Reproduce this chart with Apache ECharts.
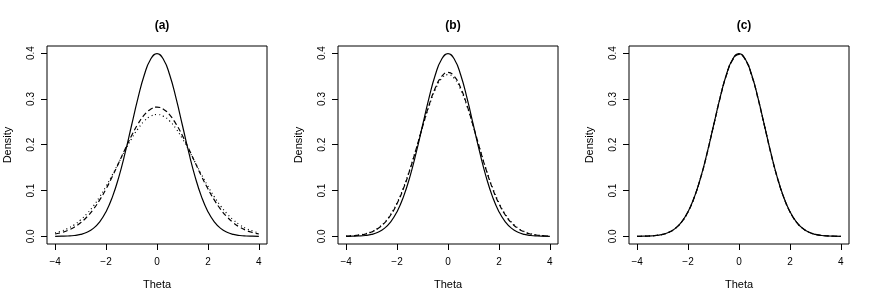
<!DOCTYPE html>
<html>
<head>
<meta charset="utf-8">
<script src="https://cdn.jsdelivr.net/npm/echarts@6/dist/echarts.min.js"></script>
<style>html,body{margin:0;padding:0;background:#fff}#c{width:872px;height:303px}</style>
</head>
<body>
<div id="c"></div>
<script>
var thetaGrid = [-4,-3.75,-3.5,-3.25,-3,-2.75,-2.5,-2.25,-2,-1.75,-1.5,-1.25,-1,-0.75,-0.5,-0.25,0,0.25,0.5,0.75,1,1.25,1.5,1.75,2,2.25,2.5,2.75,3,3.25,3.5,3.75,4];
var panelTitles = ['(a)','(b)','(c)'];
var xTicks = [-4,-2,0,2,4];
var yTicks = [0,0.1,0.2,0.3,0.4];

function mirror(half){ var r = half.slice(); for (var i = half.length-2; i >= 0; i--) r.push(half[i]); return r; }

var solidA = mirror([0.0001,0.0004,0.0009,0.0020,0.0044,0.0091,0.0175,0.0317,0.0540,0.0863,0.1295,0.1826,0.2420,0.3011,0.3521,0.3867,0.3989]);
var dashedA = mirror([0.0052,0.0084,0.0132,0.0201,0.0297,0.0426,0.0591,0.0796,0.1038,0.1312,0.1607,0.1909,0.2197,0.2451,0.2650,0.2777,0.2821]);
var dottedA = mirror([0.0076,0.0117,0.0175,0.0254,0.0360,0.0496,0.0663,0.0864,0.1094,0.1347,0.1613,0.1880,0.2130,0.2347,0.2516,0.2623,0.2660]);

var solidB = mirror([0.0001,0.0004,0.0009,0.0020,0.0044,0.0091,0.0175,0.0317,0.0540,0.0863,0.1295,0.1826,0.2420,0.3011,0.3521,0.3867,0.3989]);
var dashedB = mirror([0.0006,0.0013,0.0026,0.0051,0.0096,0.0171,0.0290,0.0467,0.0716,0.1044,0.1448,0.1909,0.2393,0.2854,0.3236,0.3489,0.3578]);
var dottedB = mirror([0.0007,0.0014,0.0029,0.0056,0.0104,0.0183,0.0305,0.0486,0.0737,0.1064,0.1463,0.1915,0.2386,0.2832,0.3201,0.3445,0.3530]);

var solidC = mirror([0.0001,0.0004,0.0009,0.0020,0.0044,0.0091,0.0175,0.0317,0.0540,0.0863,0.1295,0.1826,0.2420,0.3011,0.3521,0.3867,0.3989]);
var dashedC = mirror([0.0001,0.0004,0.0010,0.0021,0.0045,0.0092,0.0176,0.0318,0.0540,0.0862,0.1292,0.1820,0.2412,0.3000,0.3508,0.3852,0.3972]);
var dottedC = mirror([0.0001,0.0004,0.0009,0.0020,0.0044,0.0091,0.0175,0.0317,0.0539,0.0862,0.1293,0.1823,0.2416,0.3005,0.3514,0.3859,0.3980]);

var panels = [[solidA,dashedA,dottedA],[solidB,dashedB,dottedB],[solidC,dashedC,dottedC]];

var FONT = 'Liberation Sans, Arial, sans-serif';
var gridLefts = [47, 338, 629];
var grids = [], xAxes = [], yAxes = [], series = [], titles = [];
var styles = [{type:'solid'},{type:[5,3]},{type:[1,3]}];

for (var p = 0; p < 3; p++) {
  grids.push({left: gridLefts[p], top: 46, width: 220, height: 198, show: true, borderColor: '#000', borderWidth: 1, backgroundColor: 'transparent'});
  titles.push({text: panelTitles[p], left: gridLefts[p] + 110, top: 15, textAlign: 'center',
    textStyle: {fontFamily: FONT, fontSize: 12, fontWeight: 'bold', color: '#000'}});
  xAxes.push({type: 'value', gridIndex: p, min: -4.32, max: 4.32, position: 'bottom',
    name: 'Theta', nameLocation: 'middle', nameGap: 35,
    nameTextStyle: {fontFamily: FONT, fontSize: 11, color: '#000'},
    axisLine: {show: false, onZero: false}, splitLine: {show: false},
    axisTick: {show: true, inside: false, length: 6, customValues: xTicks, lineStyle: {color: '#000'}},
    axisLabel: {customValues: xTicks, margin: 13, fontFamily: FONT, fontSize: 10, color: '#000',
      formatter: function(v){ return v < 0 ? '\u2212' + Math.abs(v) : String(v); }}
  });
  yAxes.push({type: 'value', gridIndex: p, min: -0.0166, max: 0.4155, position: 'left',
    name: 'Density', nameLocation: 'middle', nameGap: 34, nameRotate: 90,
    nameTextStyle: {fontFamily: FONT, fontSize: 11, color: '#000'},
    axisLine: {show: false, onZero: false}, splitLine: {show: false},
    axisTick: {show: true, inside: false, length: 6, customValues: yTicks, lineStyle: {color: '#000'}},
    axisLabel: {customValues: yTicks, rotate: 90, margin: 11, fontFamily: FONT, fontSize: 10, color: '#000',
      formatter: function(v){ return v.toFixed(1); }}
  });
  for (var s = 0; s < 3; s++) {
    var ys = panels[p][s];
    series.push({type: 'line', xAxisIndex: p, yAxisIndex: p, smooth: true, symbol: 'none', silent: true,
      data: thetaGrid.map(function(x, i){ return [x, ys[i]]; }),
      lineStyle: {color: '#000', width: 1.2, type: styles[s].type}, z: 3 - s});
  }
}

var chart = echarts.init(document.getElementById('c'), null, {renderer: 'canvas'});
chart.setOption({animation: false, backgroundColor: '#fff', title: titles, grid: grids, xAxis: xAxes, yAxis: yAxes, series: series});
</script>
</body>
</html>
